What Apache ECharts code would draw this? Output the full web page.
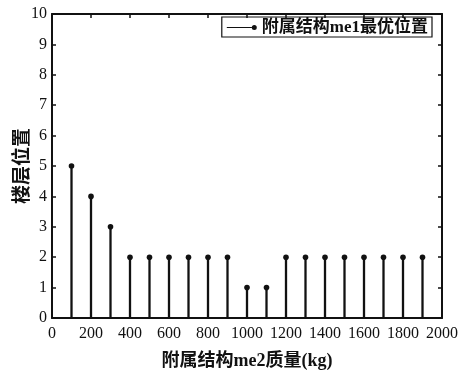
<!DOCTYPE html>
<html><head><meta charset="utf-8">
<script src="https://cdn.jsdelivr.net/npm/echarts@6/dist/echarts.min.js"></script>
<style>html,body{margin:0;padding:0;background:#fff}#c{width:459px;height:375px}</style>
</head><body><div id="c"></div>
<script>
var masses = [100,200,300,400,500,600,700,800,900,1000,1100,1200,1300,1400,1500,1600,1700,1800,1900];
var floors = [5,4,3,2,2,2,2,2,2,1,1,2,2,2,2,2,2,2,2];
var seriesName = '附属结构me1最优位置';
var xTitle = '附属结构me2质量(kg)';
var yTitle = '楼层位置';

var data = masses.map(function(m,i){return [m, floors[i]];});
var chart = echarts.init(document.getElementById('c'));
var serif = '"Liberation Serif","Noto Serif","DejaVu Serif",serif';
var cjk = '"Liberation Serif","Noto Sans CJK SC",serif';
var lineC = '#111';
function axisCommon(show){
  return {
    axisLine:{show:true,onZero:false,lineStyle:{color:lineC,width:2}},
    axisTick:{show:true,inside:true,length:4,lineStyle:{color:lineC,width:1.5}},
    splitLine:{show:false},
    axisLabel:{show:show}
  };
}
chart.setOption({
  animation:false,
  grid:{left:52,right:17,top:14,bottom:57,containLabel:false,outerBoundsMode:'none'},
  legend:{
    show:true, right:27, top:17, orient:'horizontal',
    borderColor:'#111', borderWidth:1.2, padding:[2,4,1,5],
    itemWidth:30, itemHeight:6, itemGap:4,
    textStyle:{fontFamily:cjk,fontSize:17,fontWeight:'bold',color:'#111'},
    data:[{name:seriesName,icon:'path://M0,2.5H25V3.5H0Z M25,3a2.5,2.5 0 1,0 5,0a2.5,2.5 0 1,0 -5,0Z',itemStyle:{color:'#111'}}]
  },
  xAxis:[
    Object.assign({type:'value',position:'bottom',min:0,max:2000,interval:200,
      name:xTitle,nameLocation:'middle',nameGap:34,nameMoveOverlap:false,
      nameTextStyle:{fontFamily:cjk,fontSize:18,fontWeight:'bold',color:'#111'}}, axisCommon(true),
      {axisLabel:{show:true,color:'#111',fontFamily:serif,fontSize:16,margin:8,formatter:function(v){return String(v);}}}),
    Object.assign({type:'value',position:'top',min:0,max:2000,interval:200}, axisCommon(false))
  ],
  yAxis:[
    Object.assign({type:'value',position:'left',min:0,max:10,interval:1,
      name:yTitle,nameLocation:'middle',nameGap:19,nameMoveOverlap:false,
      nameTextStyle:{fontFamily:cjk,fontSize:19,fontWeight:'bold',color:'#111'}}, axisCommon(true),
      {axisLabel:{show:true,color:'#111',fontFamily:serif,fontSize:16,margin:5}}),
    Object.assign({type:'value',position:'right',min:0,max:10,interval:1}, axisCommon(false))
  ],
  series:[{
    name:seriesName,
    type:'custom',
    xAxisIndex:0,yAxisIndex:0,
    itemStyle:{color:'#111'},
    encode:{x:0,y:1},
    data:data,
    renderItem:function(params,api){
      var top = api.coord([api.value(0),api.value(1)]);
      var base = api.coord([api.value(0),0]);
      return {type:'group',children:[
        {type:'line',shape:{x1:base[0],y1:base[1],x2:top[0],y2:top[1]},style:{stroke:'#111',lineWidth:2.3}},
        {type:'circle',shape:{cx:top[0],cy:top[1],r:2.8},style:{fill:'#111'}}
      ]};
    }
  }]
});
</script></body></html>
